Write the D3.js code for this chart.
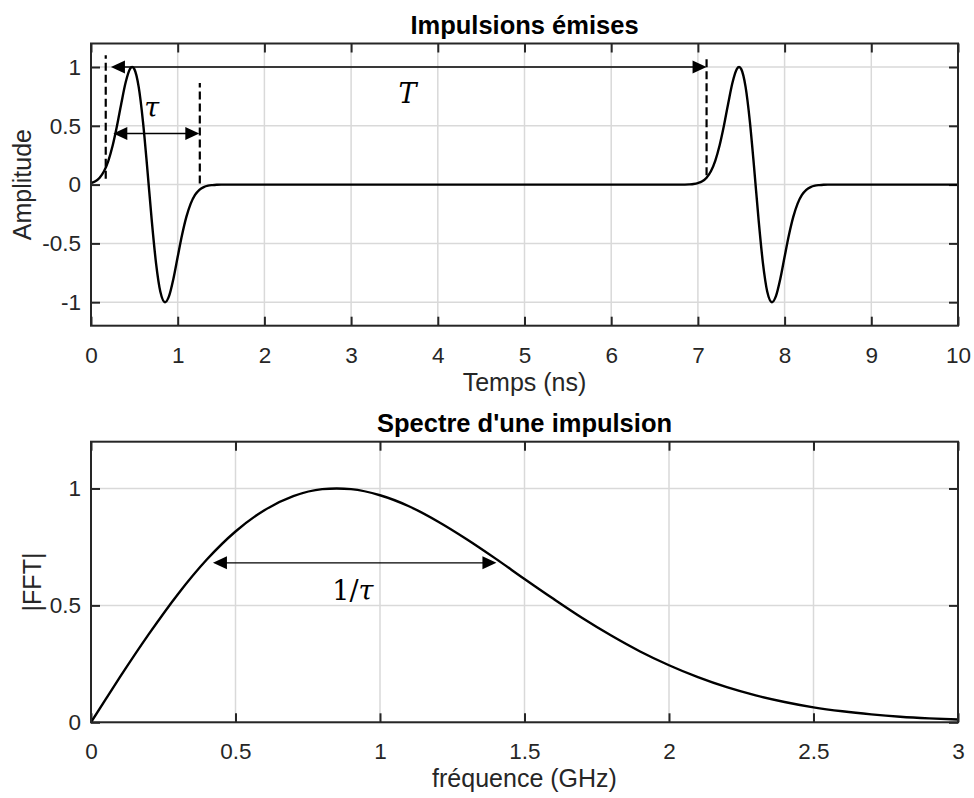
<!DOCTYPE html>
<html><head><meta charset="utf-8">
<script src="https://cdn.jsdelivr.net/npm/d3@7"></script>
<style>body{margin:0;background:#fff}svg{display:block}</style>
</head><body>
<svg id="c" width="974" height="798"></svg>
<script>
// ---- Data ----
const timeNs = [0,0.05,0.10,0.15,0.20,0.25,0.30,0.35,0.40,0.45,0.475,0.50,0.55,0.60,0.65,0.70,0.75,0.80,0.855,0.90,0.95,1.00,1.05,1.10,1.15,1.20,1.25,1.30,1.35,1.40,1.45,1.50,1.60,
  6.80,6.90,6.95,7.00,7.05,7.10,7.15,7.20,7.25,7.30,7.35,7.40,7.45,7.475,7.50,7.55,7.60,7.65,7.70,7.75,7.80,7.855,7.90,7.95,8.00,8.05,8.10,8.15,8.20,8.25,8.30,8.35,8.40,8.45,8.50,8.60,10];
const amplitude = [0.013,0.028,0.059,0.113,0.202,0.332,0.500,0.692,0.870,0.984,1.000,0.982,0.831,0.532,0.130,-0.298,-0.667,-0.911,-1.000,-0.949,-0.803,-0.614,-0.429,-0.275,-0.162,-0.088,-0.044,-0.021,-0.009,-0.004,-0.001,0,0,
  0,0.002,0.005,0.013,0.028,0.059,0.113,0.202,0.332,0.500,0.692,0.870,0.984,1.000,0.982,0.831,0.532,0.130,-0.298,-0.667,-0.911,-1.000,-0.949,-0.803,-0.614,-0.429,-0.275,-0.162,-0.088,-0.044,-0.021,-0.009,-0.004,-0.001,0,0,0];
const freqGHz = [0,0.05,0.1,0.2,0.3,0.4,0.5,0.6,0.7,0.8,0.85,0.9,1.0,1.1,1.2,1.3,1.4,1.5,1.6,1.7,1.8,1.9,2.0,2.1,2.2,2.3,2.4,2.5,2.6,2.7,2.8,2.9,3.0];
const fftMag = [0,0.097,0.193,0.377,0.547,0.695,0.816,0.907,0.967,0.997,1.000,0.997,0.971,0.924,0.859,0.783,0.700,0.613,0.528,0.446,0.371,0.303,0.244,0.193,0.150,0.115,0.087,0.064,0.047,0.034,0.024,0.017,0.012];

const timeTicks = [0,1,2,3,4,5,6,7,8,9,10];
const ampTicks = [-1,-0.5,0,0.5,1];
const freqTicks = [0,0.5,1,1.5,2,2.5,3];
const fftTicks = [0,0.5,1];

const titles = ["Impulsions émises", "Spectre d'une impulsion"];
const xLabels = ["Temps (ns)", "fréquence (GHz)"];
const yLabels = ["Amplitude", "|FFT|"];

// annotations (data coordinates)
const dashT = [0.17, 1.255, 7.10];
const dashLow = [0.05, 0.01, 0.08];
const dashHigh = [1.10, 0.865, 1.10];
const arrowTopStart = [0.23, 0.257];
const arrowTopEnd = [7.10, 1.249];
const arrowTopLevel = [1.0, 0.435];
const arrowBotStart = [0.422];
const arrowBotEnd = [1.403];
const arrowBotLevel = [0.682];

// ---- Drawing ----
const svg = d3.select('#c');
const INK = '#262626';
const FONT = '"Liberation Sans", Arial, Helvetica, sans-serif';
const MATH = '"DejaVu Serif", "Liberation Serif", serif';
const fmt = v => String(v);

function panel(cfg){
  const x = d3.scaleLinear().domain(cfg.xDomain).range([cfg.left, cfg.right]);
  const y = d3.scaleLinear().domain(cfg.yDomain).range([cfg.bottom, cfg.top]);
  const g = svg.append('g');
  // grid
  g.append('g').selectAll('line').data(cfg.xTicks).join('line')
    .attr('x1', d=>x(d)).attr('x2', d=>x(d)).attr('y1', cfg.top).attr('y2', cfg.bottom)
    .attr('stroke', '#d9d9d9').attr('stroke-width', 1.5);
  g.append('g').selectAll('line').data(cfg.yTicks).join('line')
    .attr('y1', d=>y(d)).attr('y2', d=>y(d)).attr('x1', cfg.left).attr('x2', cfg.right)
    .attr('stroke', '#d9d9d9').attr('stroke-width', 1.5);

  // axes
  const styleAxis = (sel, labels) => {
    sel.select('.domain').remove();
    sel.selectAll('.tick line').attr('stroke', INK).attr('stroke-width', 2);
    sel.selectAll('.tick text').attr('fill', INK).style('font-family', FONT).style('font-size', '22.5px');
    if(!labels) sel.selectAll('.tick text').remove();
  };
  g.append('g').attr('transform', `translate(0,${cfg.bottom})`)
    .call(d3.axisBottom(x).tickValues(cfg.xTicks).tickFormat(fmt).tickSizeInner(-9).tickSizeOuter(0).tickPadding(21))
    .call(s=>styleAxis(s,true));
  g.append('g').attr('transform', `translate(0,${cfg.top})`)
    .call(d3.axisTop(x).tickValues(cfg.xTicks).tickSizeInner(-9).tickSizeOuter(0))
    .call(s=>styleAxis(s,false));
  g.append('g').attr('transform', `translate(${cfg.left},0)`)
    .call(d3.axisLeft(y).tickValues(cfg.yTicks).tickFormat(fmt).tickSizeInner(-9).tickSizeOuter(0).tickPadding(10))
    .call(s=>styleAxis(s,true));
  g.append('g').attr('transform', `translate(${cfg.right},0)`)
    .call(d3.axisRight(y).tickValues(cfg.yTicks).tickSizeInner(-9).tickSizeOuter(0))
    .call(s=>styleAxis(s,false));

  // curve
  const clipId = 'clip' + cfg.id;
  svg.append('clipPath').attr('id', clipId).append('rect')
    .attr('x', cfg.left).attr('y', cfg.top).attr('width', cfg.right-cfg.left).attr('height', cfg.bottom-cfg.top);
  const line = d3.line().x(d=>x(d[0])).y(d=>y(d[1])).curve(d3.curveMonotoneX);
  g.append('path').datum(d3.zip(cfg.xs, cfg.ys)).attr('d', line)
    .attr('fill', 'none').attr('stroke', '#000').attr('stroke-width', 2.4)
    .attr('clip-path', `url(#${clipId})`);

  // box
  g.append('rect').attr('x', cfg.left).attr('y', cfg.top)
    .attr('width', cfg.right-cfg.left).attr('height', cfg.bottom-cfg.top)
    .attr('fill', 'none').attr('stroke', INK).attr('stroke-width', 2);

  // title & labels
  g.append('text').attr('x', (cfg.left+cfg.right)/2).attr('y', cfg.top-10)
    .attr('text-anchor', 'middle').style('font-family', FONT).style('font-size', '25.5px')
    .style('font-weight', 'bold').attr('fill', '#000').text(cfg.title);
  g.append('text').attr('x', (cfg.left+cfg.right)/2).attr('y', cfg.bottom+65)
    .attr('text-anchor', 'middle').style('font-family', FONT).style('font-size', '25px')
    .attr('fill', INK).text(cfg.xLabel);
  g.append('text').attr('transform', `translate(${cfg.yLabelX},${(cfg.top+cfg.bottom)/2}) rotate(-90)`)
    .attr('text-anchor', 'middle').style('font-family', FONT).style('font-size', '25px')
    .attr('fill', INK).text(cfg.yLabel);
  return {x, y, g};
}

function arrow(g, x1, x2, yy){
  const L = 14, H = 6.5;
  g.append('line').attr('x1', x1+L-1).attr('x2', x2-L+1).attr('y1', yy).attr('y2', yy)
    .attr('stroke', '#000').attr('stroke-width', 1.4);
  g.append('path').attr('d', `M${x1},${yy} L${x1+L},${yy-H} L${x1+L},${yy+H} Z`).attr('fill', '#000');
  g.append('path').attr('d', `M${x2},${yy} L${x2-L},${yy-H} L${x2-L},${yy+H} Z`).attr('fill', '#000');
}

const p1 = panel({id:1, left:91, right:958, top:43.5, bottom:325.7, xDomain:[0,10], yDomain:[-1.2,1.2],
  xTicks:timeTicks, yTicks:ampTicks, xs:timeNs, ys:amplitude, title:titles[0], xLabel:xLabels[0], yLabel:yLabels[0], yLabelX:31});
const p2 = panel({id:2, left:91, right:958, top:441.7, bottom:722.3, xDomain:[0,3], yDomain:[0,1.2],
  xTicks:freqTicks, yTicks:fftTicks, xs:freqGHz, ys:fftMag, title:titles[1], xLabel:xLabels[1], yLabel:yLabels[1], yLabelX:41});

// top annotations
dashT.forEach((t,i)=>{
  p1.g.append('line').attr('x1', p1.x(t)).attr('x2', p1.x(t)).attr('y1', p1.y(dashLow[i])).attr('y2', p1.y(dashHigh[i]))
    .attr('stroke', '#000').attr('stroke-width', 2.2).attr('stroke-dasharray', '8,4');
});
arrowTopStart.forEach((t,i)=> arrow(p1.g, p1.x(t), p1.x(arrowTopEnd[i]), p1.y(arrowTopLevel[i])));
p1.g.append('text').attr('x', p1.x(3.65)).attr('y', p1.y(0.69)).attr('text-anchor','middle')
  .style('font-family', MATH).style('font-style','italic').style('font-size','27px').text('T');
p1.g.append('text').attr('x', p1.x(0.70)).attr('y', p1.y(0.576)).attr('text-anchor','middle')
  .style('font-family', MATH).style('font-style','italic').style('font-size','27px').text('τ');

// bottom annotations
arrowBotStart.forEach((f,i)=> arrow(p2.g, p2.x(f), p2.x(arrowBotEnd[i]), p2.y(arrowBotLevel[i])));
const lbl = p2.g.append('text').attr('x', p2.x(0.906)).attr('y', p2.y(0.523)).attr('text-anchor','middle')
  .style('font-family', MATH).style('font-size','27px');
lbl.append('tspan').text('1/');
lbl.append('tspan').style('font-style','italic').text('τ');
</script>
</body></html>
